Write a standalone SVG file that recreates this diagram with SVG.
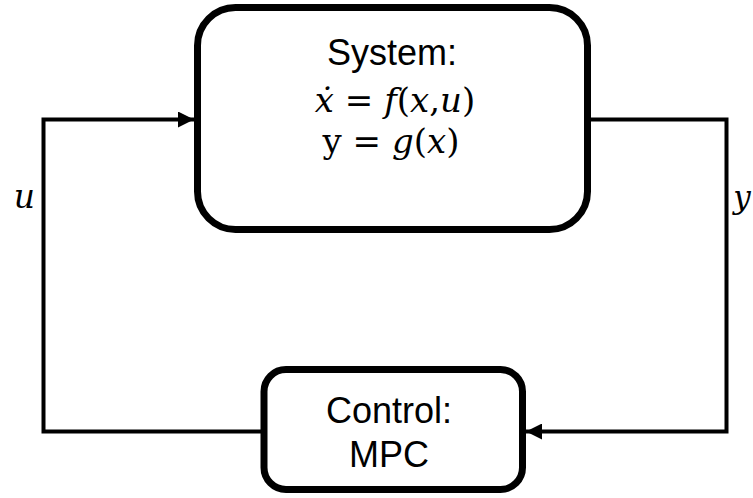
<svg xmlns="http://www.w3.org/2000/svg" width="753" height="498" viewBox="0 0 753 498">
<style>
.box{fill:#fff;stroke:#000;stroke-width:7}
.wire{fill:none;stroke:#000;stroke-width:4;stroke-linejoin:miter}
.lbl{font-family:"Liberation Sans",Arial,sans-serif;fill:#000;text-anchor:middle}
.math{font-family:"DejaVu Serif","Liberation Serif",serif;fill:#000;text-anchor:middle}
.it{font-style:italic}
</style>
<defs>
<marker id="arr" markerWidth="4" markerHeight="4" refX="4" refY="2" orient="auto" markerUnits="strokeWidth">
<path d="M0,0 L4,2 L0,4 Z" fill="#000"/>
</marker>
</defs>
<rect width="753" height="498" fill="#fff"/>
<g id="connectors">
<path class="wire" d="M262,431.5 H43.5 V119.5 H194" marker-end="url(#arr)"/>
<path class="wire" d="M591,119.5 H726.5 V431.5 H526" marker-end="url(#arr)"/>
</g>
<g id="system">
<rect class="box" x="197.5" y="7.5" width="390" height="222" rx="38"/>
<text class="lbl" x="392" y="65" font-size="36">System:</text>
<text class="math" x="395" y="112" font-size="34"><tspan class="it">ẋ</tspan> = <tspan class="it">f</tspan>(<tspan class="it">x</tspan>,<tspan class="it">u</tspan>)</text>
<text class="math" x="391" y="153" font-size="34">y = <tspan class="it">g</tspan>(<tspan class="it">x</tspan>)</text>
</g>
<g id="control">
<rect class="box" x="264" y="369.5" width="258.5" height="120" rx="22"/>
<text class="lbl" x="389" y="423" font-size="36">Control:</text>
<text class="lbl" x="389" y="467" font-size="36">MPC</text>
</g>
<g id="labels">
<text class="math it" x="24.5" y="208" font-size="33">u</text>
<text class="math it" x="742" y="208" font-size="31">y</text>
</g>
</svg>
